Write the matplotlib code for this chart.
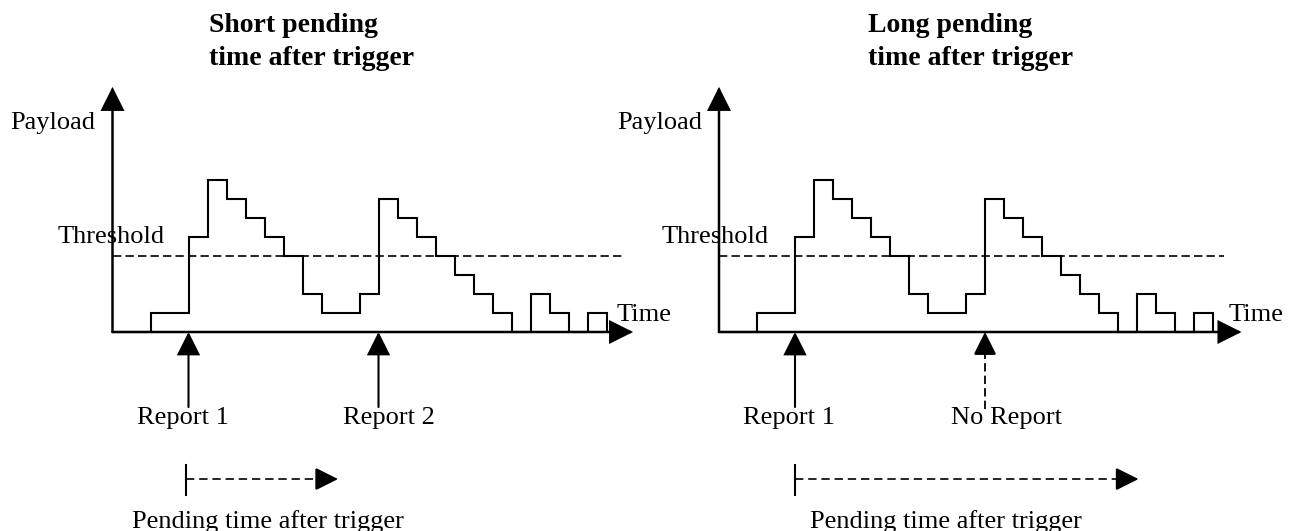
import matplotlib
matplotlib.use("Agg")
import matplotlib.pyplot as plt

plt.rcParams['font.family'] = ['Liberation Serif', 'DejaVu Serif']
plt.rcParams['lines.scale_dashes'] = False

# ---- data ----
step_edges = [0, 2, 4, 5, 6, 7, 8, 9, 10, 11, 13, 14, 15, 16, 17, 18, 19, 20, 21, 22, 23, 24, 25, 26]
step_levels = [0, 1, 5, 8, 7, 6, 5, 4, 2, 1, 2, 7, 6, 5, 4, 3, 2, 1, 0, 2, 1, 0, 1]
threshold = 4
titles = ["Short pending\ntime after trigger", "Long pending\ntime after trigger"]
report_times = [[4, 14], [4, 14]]
report_labels = [["Report 1", "Report 2"], ["Report 1", "No Report"]]
report_sent = [[True, True], [True, False]]
pending_lengths = [8.0, 18.1]
y_label = "Payload"
x_label = "Time"
threshold_label = "Threshold"
pending_label = "Pending time after trigger"

W, H = 1292, 531
fig = plt.figure(figsize=(W / 100, H / 100), dpi=100)

U = 19.0  # pixels per unit
panels = [
    dict(rect=[0, 0, 0.5, 1], x0=112.5, title_x=5.07, time_x=26.55, xtip=27.4, thr_end=26.97,
         thr_lab_x=-2.9, pay_x=-5.39, lab_x=[1.29, 12.13], pend_bar=3.87, pend_text_x=1.01),
    dict(rect=[0.5, 0, 0.5, 1], x0=719.0 - 646, title_x=7.84, time_x=26.8, xtip=27.5, thr_end=26.6,
         thr_lab_x=-3.02, pay_x=-5.37, lab_x=[1.28, 12.2], pend_bar=3.98, pend_text_x=4.79),
]

BASE_PY = 332.0
FS = 19
TFS = 20


def head(ax, start, tip, lw=1.5):
    ax.annotate('', xy=tip, xytext=start,
                arrowprops=dict(arrowstyle='-|>,head_length=0.72,head_width=0.36',
                                mutation_scale=20, lw=lw, color='black',
                                shrinkA=0, shrinkB=0, joinstyle='miter'))


for i, p in enumerate(panels):
    ax = fig.add_axes(p['rect'])
    ax.set_xlim(-p['x0'] / U, (646 - p['x0']) / U)
    ax.set_ylim((BASE_PY - H) / U, BASE_PY / U)
    ax.axis('off')

    # step curve
    ax.stairs(step_levels, step_edges, color='black', lw=1.5, baseline=0)

    # axes arrows
    head(ax, (0, 0), (0, 12.9), lw=1.8)
    head(ax, (0, 0), (p['xtip'], 0), lw=1.8)

    # threshold
    ax.plot([0, p['thr_end']], [threshold, threshold], color='black', lw=1.2,
            dashes=(6, 3))
    ax.text(p['thr_lab_x'], threshold + 0.7, threshold_label, fontsize=FS, va='baseline', ha='left')

    # labels
    ax.text(p['pay_x'], 10.67, y_label, fontsize=FS, va='baseline', ha='left')
    ax.text(p['time_x'], 0.58, x_label, fontsize=FS, va='baseline', ha='left')
    t1, t2 = titles[i].split('\n')
    ax.text(p['title_x'], 15.8, t1, fontsize=TFS, fontweight='bold', va='baseline', ha='left')
    ax.text(p['title_x'], 14.05, t2, fontsize=TFS, fontweight='bold', va='baseline', ha='left')

    # report arrows
    for t, lab, sent, lx in zip(report_times[i], report_labels[i], report_sent[i], p['lab_x']):
        if sent:
            head(ax, (t, -3.95), (t, 0), lw=1.5)
        else:
            hl = 20 / U
            ax.plot([t, t], [-4.05, -hl], color='black', lw=1.3, dashes=(6, 3))
            head(ax, (t, -hl), (t, 0), lw=1.3)
        ax.text(lx, -4.85, lab, fontsize=FS, va='baseline', ha='left')

    # pending time arrow
    b = p['pend_bar']
    ax.plot([b, b], [-7.0, -8.58], color='black', lw=1.5)
    tip = b + pending_lengths[i]
    hl = 20 / U
    ax.plot([b, tip - hl], [-7.74, -7.74], color='black', lw=1.2, dashes=(6, 3.5))
    head(ax, (tip - hl, -7.74), (tip, -7.74), lw=1.2)
    ax.text(p['pend_text_x'], -10.3, pending_label, fontsize=FS, va='baseline', ha='left')

fig.savefig('out.png', dpi=100, facecolor='white')
